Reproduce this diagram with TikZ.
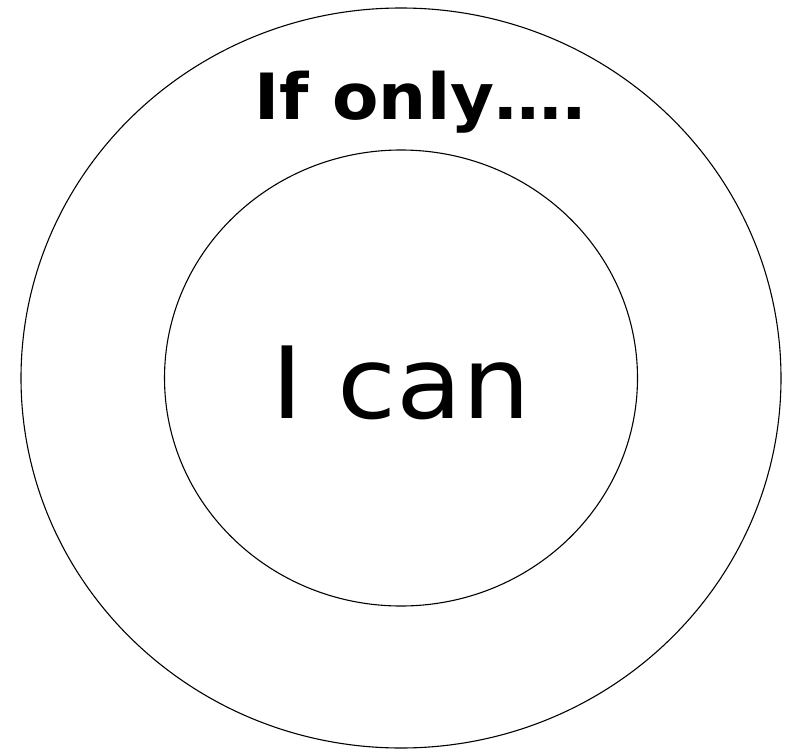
\documentclass[tikz,border=0pt]{standalone}
\usepackage{fontspec}
\setmainfont{DejaVu Sans}
\begin{document}
\begin{tikzpicture}[x=1bp, y=-1bp, line width=1.1pt,
    label text/.style={inner sep=0pt, anchor=base}]
            \useasboundingbox (0,0) rectangle (789,749);
            \draw (401,378) ellipse [x radius=380, y radius=370];
            \draw (401,378) ellipse [x radius=236.5, y radius=228];
            \node[label text, xscale=1.06, font=\fontsize{64}{70}\selectfont\bfseries] (wish) at (421,119) {If only….};
            \node[label text, xscale=1.08, font=\fontsize{100}{110}\selectfont] (claim) at (401,418) {I can};
        \end{tikzpicture}
\end{document}
